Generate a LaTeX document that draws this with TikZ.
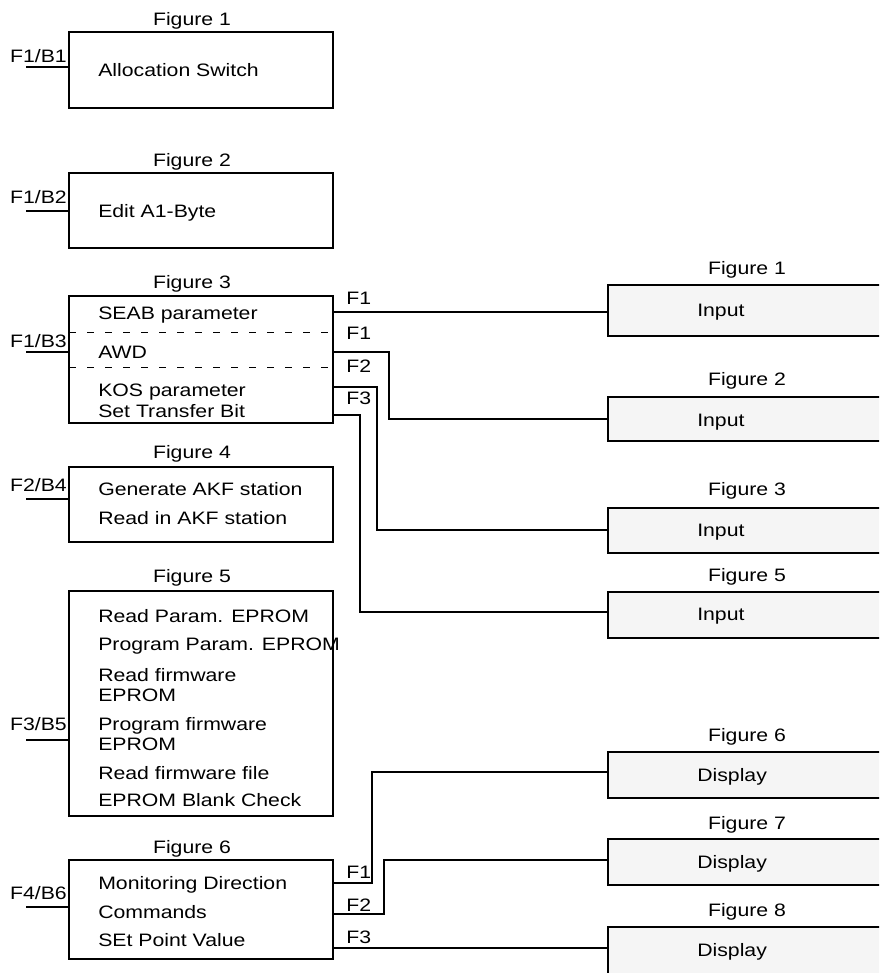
\documentclass[tikz,border=0pt]{standalone}
\usepackage{fontspec}
\setmainfont{Liberation Sans}[FakeStretch=1.18]
\usepackage{tikz}
\definecolor{inputgray}{RGB}{245,245,245}
\tikzset{
  menubox/.style={draw, line width=0.8pt, anchor=north west, minimum width=198pt,
                  inner sep=0pt, outer sep=0pt},
  unitbox/.style={menubox, fill=inputgray, minimum width=225pt},
  txt/.style={anchor=base west, inner sep=0pt, font=\fontsize{13.5pt}{16pt}\selectfont},
  figlbl/.style={txt, anchor=base},
  portlbl/.style={txt, anchor=base east},
  wire/.style={line width=0.8pt},
  sep/.style={line width=0.7pt, dash pattern=on 5pt off 8.5pt}
}

\begin{document}
\begin{tikzpicture}[x=0.75pt, y=-0.75pt]
  \useasboundingbox (0,0) rectangle (879,973);
  \clip (0,0) rectangle (879,973);

  % left column: the menu boxes
  \node[menubox, minimum height=57pt]     (b1) at (69,32)  {};
  \node[menubox, minimum height=56.25pt]  (b2) at (69,173) {};
  \node[menubox, minimum height=95.25pt]  (b3) at (69,296) {};
  \node[menubox, minimum height=56.25pt]  (b4) at (69,467) {};
  \node[menubox, minimum height=168.75pt] (b5) at (69,591) {};
  \node[menubox, minimum height=74.25pt]  (b6) at (69,860) {};

  \node[figlbl] (fl1) at (192,26)  {Figure 1};
  \node[figlbl] (fl2) at (192,167) {Figure 2};
  \node[figlbl] (fl3) at (192,289) {Figure 3};
  \node[figlbl] (fl4) at (192,458) {Figure 4};
  \node[figlbl] (fl5) at (192,582) {Figure 5};
  \node[figlbl] (fl6) at (192,853) {Figure 6};

  % entry stubs
  \foreach \n/\y in {1/67,2/211,3/352,4/499,5/740,6/907} {
    \coordinate (p\n) at (26,\y);
    \draw[wire] (p\n) -- (p\n -| b\n.west);
  }
  \node[portlbl] (k1) at (67,63)  {F1/B1};
  \node[portlbl] (k2) at (67,204) {F1/B2};
  \node[portlbl] (k3) at (67,347) {F1/B3};
  \node[portlbl] (k4) at (67,491) {F2/B4};
  \node[portlbl] (k5) at (67,730) {F3/B5};
  \node[portlbl] (k6) at (67,899) {F4/B6};

  % box contents
  \node[txt] (b1t) at (98,77)  {Allocation Switch};
  \node[txt] (b2t) at (98,218) {Edit A1-Byte};

  \node[txt] (b3t1) at (98,320) {SEAB parameter};
  \node[txt] (b3t2) at (98,358) {AWD};
  \node[txt] (b3t3) at (98,396) {KOS parameter};
  \node[txt] (b3t4) at (98,417) {Set Transfer Bit};
  \draw[sep] (b3.west |- 0,332) -- (b3.east |- 0,332);
  \draw[sep] (b3.west |- 0,367) -- (b3.east |- 0,367);

  \node[txt] (b4t1) at (98,495) {Generate AKF station};
  \node[txt] (b4t2) at (98,524) {Read in AKF station};

  \foreach \t/\y [count=\i] in {Read Param. EPROM/622, Program Param. EPROM/650,
      Read firmware/681, EPROM/701, Program firmware/730, EPROM/750,
      Read firmware file/779, EPROM Blank Check/806}
    \node[txt] (b5t\i) at (98,\y) {\t};

  \node[txt] (b6t1) at (98,889) {Monitoring Direction};
  \node[txt] (b6t2) at (98,918) {Commands};
  \node[txt] (b6t3) at (98,946) {SEt Point Value};

  % right column: input / display units
  \node[unitbox, minimum height=38.25pt] (r1) at (608,285) {};
  \node[unitbox, minimum height=33pt]    (r2) at (608,397) {};
  \node[unitbox, minimum height=33.75pt] (r3) at (608,508) {};
  \node[unitbox, minimum height=34.5pt]  (r5) at (608,592) {};
  \node[unitbox, minimum height=34.5pt]  (r6) at (608,752) {};
  \node[unitbox, minimum height=34.5pt]  (r7) at (608,839) {};
  \node[unitbox, minimum height=40pt]    (r8) at (608,927) {};

  \node[figlbl] (fr1) at (747,275) {Figure 1};
  \node[figlbl] (fr2) at (747,385) {Figure 2};
  \node[figlbl] (fr3) at (747,495) {Figure 3};
  \node[figlbl] (fr5) at (747,581) {Figure 5};
  \node[figlbl] (fr6) at (747,741) {Figure 6};
  \node[figlbl] (fr7) at (747,829) {Figure 7};
  \node[figlbl] (fr8) at (747,916) {Figure 8};

  \node[txt] (r1t) at (697,316) {Input};
  \node[txt] (r2t) at (697,426) {Input};
  \node[txt] (r3t) at (697,536) {Input};
  \node[txt] (r5t) at (697,620) {Input};
  \node[txt] (r6t) at (697,781) {Display};
  \node[txt] (r7t) at (697,868) {Display};
  \node[txt] (r8t) at (697,956) {Display};

  % connections
  \draw[wire] (b3.east |- 0,312) -- (r1.west |- 0,312);
  \draw[wire] (b3.east |- 0,352) -- (389,352) |- (r2.west |- 0,419);
  \draw[wire] (b3.east |- 0,387) -- (377,387) |- (r3.west |- 0,530);
  \draw[wire] (b3.east |- 0,415) -- (360,415) |- (r5.west |- 0,612);
  \draw[wire] (b6.east |- 0,883) -- (372,883) |- (r6.west |- 0,772);
  \draw[wire] (b6.east |- 0,914) -- (384,914) |- (r7.west |- 0,860);
  \draw[wire] (b6.east |- 0,948) -- (r8.west |- 0,948);

  \node[txt] (w1) at (346,305) {F1};
  \node[txt] (w2) at (346,339) {F1};
  \node[txt] (w3) at (346,372) {F2};
  \node[txt] (w4) at (346,404) {F3};
  \node[txt] (w5) at (346,878) {F1};
  \node[txt] (w6) at (346,911) {F2};
  \node[txt] (w7) at (346,943) {F3};
\end{tikzpicture}
\end{document}
